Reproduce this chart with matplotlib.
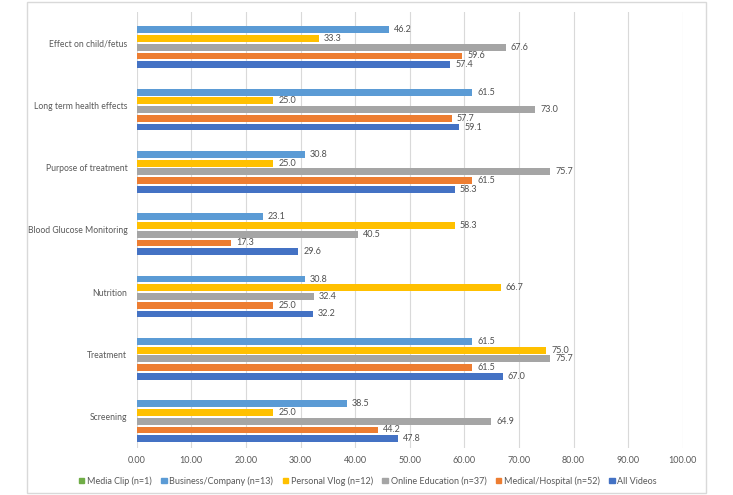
import numpy as np
import matplotlib.pyplot as plt
from matplotlib.patches import Patch, Rectangle

plt.rcParams['font.family'] = ['Lato', 'DejaVu Sans']

# categories, top to bottom
categories = ['Effect on child/fetus', 'Long term health effects', 'Purpose of treatment',
              'Blood Glucose Monitoring', 'Nutrition', 'Treatment', 'Screening']

series_names = ['Media Clip (n=1)', 'Business/Company (n=13)', 'Personal Vlog (n=12)',
                'Online Education (n=37)', 'Medical/Hospital (n=52)', 'All Videos']
media_clip = [None, None, None, None, None, None, None]
business = [46.2, 61.5, 30.8, 23.1, 30.8, 61.5, 38.5]
personal_vlog = [33.3, 25.0, 25.0, 58.3, 66.7, 75.0, 25.0]
online_edu = [67.6, 73.0, 75.7, 40.5, 32.4, 75.7, 64.9]
medical = [59.6, 57.7, 61.5, 17.3, 25.0, 61.5, 44.2]
all_videos = [57.4, 59.1, 58.3, 29.6, 32.2, 67.0, 47.8]

series = [media_clip, business, personal_vlog, online_edu, medical, all_videos]
colors = ['#70AD47', '#5B9BD5', '#FFC000', '#A5A5A5', '#ED7D31', '#4472C4']

W, H = 733, 495
fig = plt.figure(figsize=(W / 100, H / 100), dpi=100)
ax = fig.add_axes([136.7 / W, 1 - 448 / H, (682.7 - 136.7) / W, (448 - 11.7) / H])

# outer chart border
fig.patches.append(Rectangle((27 / W, 2 / H), (706 - 27) / W, (493 - 2) / H,
                             transform=fig.transFigure, fill=False,
                             edgecolor='#D9D9D9', lw=1.0))

y = np.arange(len(categories))
slot = 0.14
for k, (vals, col) in enumerate(zip(series, colors)):
    pos = y + (k - 2.5) * slot
    for yi, v in zip(pos, vals):
        if v is None:
            continue
        ax.barh(yi, v, height=slot * 0.78, color=col, zorder=2)
        ax.annotate(f'{v:.1f}', (v, yi), xytext=(3.6, 0), textcoords='offset points',
                    va='center', ha='left', fontsize=6.5, color='#505050')

ax.set_xlim(0, 100)
ax.set_ylim(len(categories) - 0.5, -0.5)
ax.set_xticks(np.arange(0, 101, 10))
ax.set_xticklabels([f'{t:.2f}' for t in np.arange(0, 101, 10)])
ax.set_yticks(y)
ax.set_yticklabels(categories, fontsize=6.2)
ax.tick_params(axis='x', length=0, labelsize=6.5, labelcolor='#595959', pad=6)
ax.tick_params(axis='y', length=0, labelcolor='#595959', pad=6.8)
ax.grid(axis='x', color='#D9D9D9', lw=0.8, zorder=0)
ax.set_axisbelow(True)
for s in ax.spines.values():
    s.set_visible(False)

handles = [Patch(color=c, label=n) for c, n in zip(colors, series_names)]
fig.legend(handles=handles, loc='center', bbox_to_anchor=(368 / W, 1 - 481 / H),
           ncol=6, frameon=False, fontsize=6.5, handlelength=0.6, handleheight=0.6,
           handletextpad=0.3, columnspacing=1.05, labelcolor='#595959')

fig.savefig('out.png', dpi=100)
